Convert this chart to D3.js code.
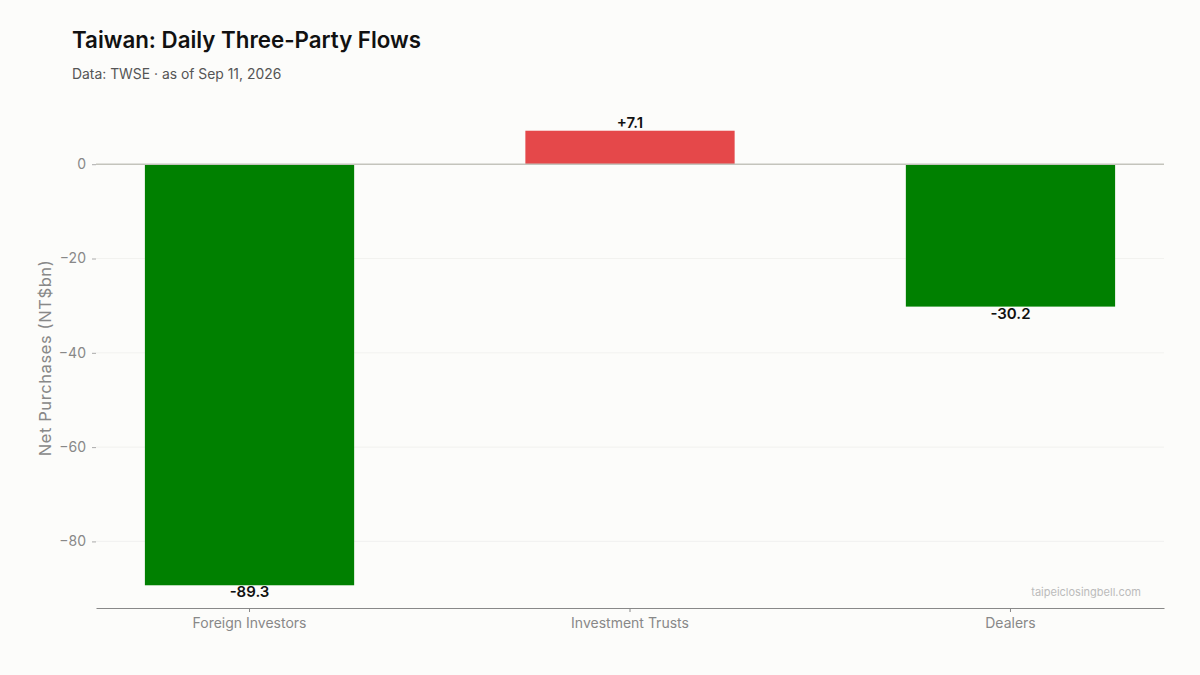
<!DOCTYPE html>
<html>
<head>
<meta charset="utf-8">
<script src="https://cdn.jsdelivr.net/npm/d3@7"></script>
<style>
  html, body { margin: 0; padding: 0; background: #fcfcfa; }
  svg { display: block; font-family: Inter, "Noto Sans", sans-serif; }
</style>
</head>
<body>
<svg id="viz" width="1200" height="675"></svg>
<script>
// three-party institutional flows, NT$bn
const CATEGORIES = ["Foreign Investors", "Investment Trusts", "Dealers"];
const VALUES = [-89.3, 7.1, -30.2];
const Y_TICKS = [0, -20, -40, -60, -80];

const POS = "#e5484a";
const NEG = "#008000";
const margin = { top: 108, right: 36, bottom: 67, left: 96 };
const W = 1200, H = 675;

const svg = d3.select("#viz");
svg.append("rect").attr("width", W).attr("height", H).attr("fill", "#fcfcfa");

svg.append("text")
  .attr("x", 72).attr("y", 48)
  .attr("font-size", 22.3).attr("font-weight", 600).attr("fill", "#111")
  .text("Taiwan: Daily Three-Party Flows");

svg.append("text")
  .attr("x", 72).attr("y", 79)
  .attr("font-size", 13.9).attr("fill", "#555")
  .text("Data: TWSE \u00b7 as of Sep 11, 2026");

const x = d3.scaleBand()
  .domain(CATEGORIES)
  .range([margin.left, W - margin.right])
  .paddingInner(0.45)
  .paddingOuter(0.1285);

// matplotlib-like 5% margins
const lo = d3.min(VALUES), hi = d3.max(VALUES);
const pad = (hi - lo) * 0.05;
const y = d3.scaleLinear()
  .domain([lo - pad, hi + pad])
  .range([H - margin.bottom, margin.top]);

// grid
svg.append("g")
  .selectAll("line")
  .data(Y_TICKS.filter(d => d !== 0))
  .join("line")
  .attr("x1", margin.left).attr("x2", W - margin.right)
  .attr("y1", d => y(d)).attr("y2", d => y(d))
  .attr("stroke", "#efefec").attr("stroke-width", 0.8);

// y axis
const yAxis = svg.append("g")
  .attr("transform", `translate(${margin.left},0)`)
  .call(d3.axisLeft(y).tickValues(Y_TICKS).tickSize(4).tickPadding(6)
    .tickFormat(d => d < 0 ? "\u2212" + Math.abs(d) : String(d)));
yAxis.select(".domain").remove();
yAxis.selectAll(".tick line").attr("stroke", "#aaa");
yAxis.selectAll(".tick text")
  .attr("fill", "#888").attr("font-size", 14)
  .attr("font-family", "Inter, sans-serif");

svg.append("text")
  .attr("transform", `translate(51,${(margin.top + H - margin.bottom) / 2}) rotate(-90)`)
  .attr("text-anchor", "middle")
  .attr("font-size", 16.5).attr("fill", "#888")
  .attr("letter-spacing", 0.6)
  .text("Net Purchases (NT$bn)");

// bars
svg.append("g")
  .selectAll("rect")
  .data(VALUES)
  .join("rect")
  .attr("x", (d, i) => x(CATEGORIES[i]))
  .attr("width", x.bandwidth())
  .attr("y", d => y(Math.max(0, d)))
  .attr("height", d => Math.abs(y(d) - y(0)))
  .attr("fill", d => d >= 0 ? POS : NEG);

// zero line
svg.append("line")
  .attr("x1", margin.left).attr("x2", W - margin.right)
  .attr("y1", y(0)).attr("y2", y(0))
  .attr("stroke", "#c4c4bc").attr("stroke-width", 1.5);

// value labels
svg.append("g")
  .selectAll("text")
  .data(VALUES)
  .join("text")
  .attr("x", (d, i) => x(CATEGORIES[i]) + x.bandwidth() / 2)
  .attr("y", d => d >= 0 ? y(d) - 3 : y(d) + 12)
  .attr("text-anchor", "middle")
  .attr("font-size", 15).attr("font-weight", 600).attr("fill", "#111")
  .text(d => (d >= 0 ? "+" : "") + d.toFixed(1));

// x axis
const xAxis = svg.append("g")
  .attr("transform", `translate(0,${H - margin.bottom})`)
  .call(d3.axisBottom(x).tickSize(4).tickPadding(6).tickSizeOuter(0));
xAxis.select(".domain").attr("stroke", "#888");
xAxis.selectAll(".tick line").attr("stroke", "#888");
xAxis.selectAll(".tick text")
  .attr("fill", "#888").attr("font-size", 14)
  .attr("font-family", "Inter, sans-serif");

svg.append("text")
  .attr("x", W - margin.right - 23).attr("y", H - margin.bottom - 12)
  .attr("text-anchor", "end")
  .attr("font-size", 11).attr("fill", "#bbb")
  .text("taipeiclosingbell.com");
</script>
</body>
</html>
